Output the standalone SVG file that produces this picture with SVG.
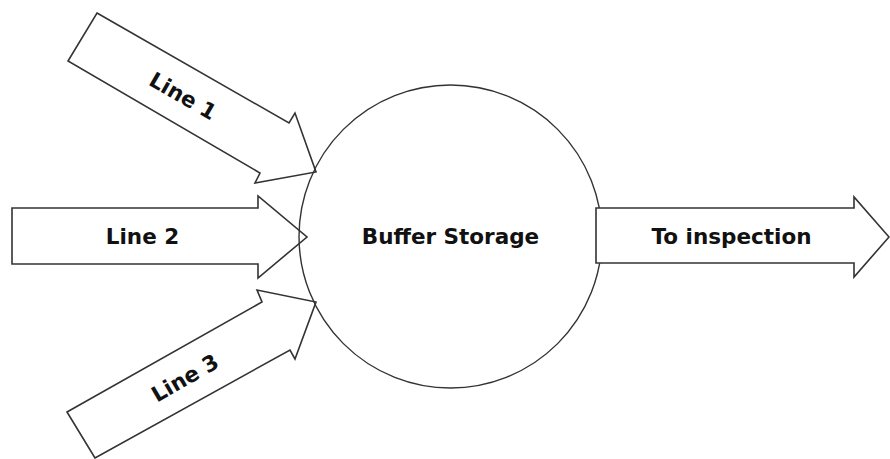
<svg xmlns="http://www.w3.org/2000/svg" width="890" height="459" viewBox="0 0 890 459">
  <style>
    .arrow { fill: none; stroke: #333; stroke-width: 1.6; stroke-linejoin: miter; }
    .out { fill: #fff; stroke: #333; stroke-width: 1.6; }
    .node { fill: none; stroke: #333; stroke-width: 1.4; }
    .lbl { font-family: "DejaVu Sans", Verdana, sans-serif; font-weight: bold; font-size: 21.5px; fill: #111; text-anchor: middle; }
  </style>
  <rect width="890" height="459" fill="#fff"/>
  <g id="connectors">
    <g id="line1">
      <polygon class="arrow" points="97,13 289,123 295,113 316,172 255,183 260,173 68,61"/>
      <text class="lbl" transform="translate(183,96) rotate(30)" y="7.5">Line 1</text>
    </g>
    <g id="line2">
      <polygon class="arrow" points="12,208 258,208 258,196 307,237 258,278 258,264 12,264"/>
      <text class="lbl" x="142.5" y="244">Line 2</text>
    </g>
    <g id="line3">
      <polygon class="arrow" points="67,412 262,302 257,290 316,302 295,359 290,350 95,458"/>
      <text class="lbl" transform="translate(185,378) rotate(-30)" y="7.5">Line 3</text>
    </g>
  </g>
  <g id="buffer">
    <circle class="node" cx="450.5" cy="236.5" r="151.5"/>
    <text class="lbl" x="450.5" y="244">Buffer Storage</text>
  </g>
  <g id="to-inspection">
    <polygon class="out" points="596,208 854,208 854,197 889,237 854,277 854,263 596,263"/>
    <text class="lbl" x="731.5" y="244">To inspection</text>
  </g>
</svg>
